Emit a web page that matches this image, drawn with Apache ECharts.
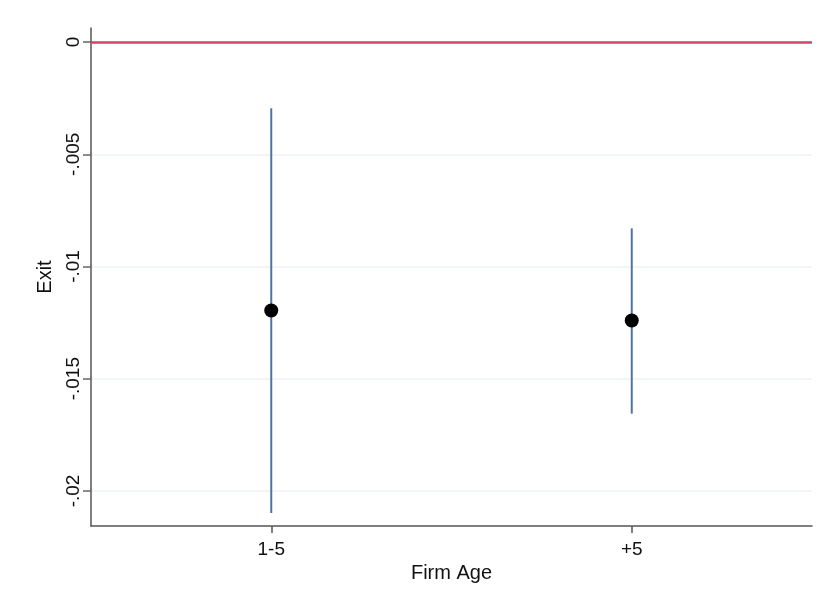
<!DOCTYPE html>
<html>
<head>
<meta charset="utf-8">
<script src="https://cdn.jsdelivr.net/npm/echarts@6/dist/echarts.min.js"></script>
<style>
  html, body { margin: 0; padding: 0; background: #fff; }
  #chart { width: 823px; height: 603px; }
</style>
</head>
<body>
<div id="chart"></div>
<script>
// Firm age groups and estimated effect on exit with 95% confidence bounds
const categories = ['1-5', '+5'];
const estimates = [-0.01196, -0.01241];
const ciLower = [-0.02098, -0.01656];
const ciUpper = [-0.00295, -0.00830];
const yTicks = [0, -0.005, -0.01, -0.015, -0.02];

const fmt = v => {
  if (Math.abs(v) < 1e-12) return '0';
  return String(+v.toFixed(4)).replace('0.', '.');
};

const chart = echarts.init(document.getElementById('chart'));
const font = 'Liberation Sans, Arial, sans-serif';

chart.setOption({
  animation: false,
  backgroundColor: '#ffffff',
  grid: { left: 91, right: 11, top: 28, bottom: 77, containLabel: false },
  xAxis: {
    type: 'category',
    data: categories,
    boundaryGap: true,
    name: 'Firm Age',
    nameLocation: 'middle',
    nameGap: 37,
    nameTextStyle: { fontFamily: font, fontSize: 20, color: '#111' },
    axisLine: { show: true, onZero: false, lineStyle: { color: '#555', width: 1.5 } },
    axisTick: { show: true, inside: false, alignWithLabel: true, length: 7, lineStyle: { color: '#555', width: 1.5 } },
    axisLabel: { fontFamily: font, fontSize: 19, color: '#111', margin: 14 },
    splitLine: { show: false }
  },
  yAxis: {
    type: 'value',
    min: -0.0215625,
    max: 0.000625,
    name: 'Exit',
    nameLocation: 'middle',
    nameGap: 36,
    nameRotate: 90,
    nameTextStyle: { fontFamily: font, fontSize: 20, color: '#111' },
    axisLine: { show: true, lineStyle: { color: '#555', width: 1.5 } },
    axisTick: { show: true, inside: false, length: 8, customValues: yTicks, lineStyle: { color: '#666', width: 1.5 } },
    axisLabel: { fontFamily: font, fontSize: 19, color: '#111', rotate: 90, margin: 8, customValues: yTicks, formatter: fmt },
    splitLine: { show: true, lineStyle: { color: '#eef2f2', width: 1.5 } }
  },
  series: [
    {
      type: 'custom',
      name: 'CI',
      data: categories.map((c, i) => [i, ciLower[i], ciUpper[i]]),
      renderItem: (params, api) => {
        const lo = api.coord([api.value(0), api.value(1)]);
        const hi = api.coord([api.value(0), api.value(2)]);
        return {
          type: 'line',
          shape: { x1: lo[0], y1: lo[1], x2: hi[0], y2: hi[1] },
          style: { stroke: '#4f75a0', lineWidth: 2 }
        };
      },
      z: 2
    },
    {
      type: 'scatter',
      name: 'Estimate',
      data: categories.map((c, i) => [i, estimates[i]]),
      symbol: 'circle',
      symbolSize: 14,
      itemStyle: { color: '#000', opacity: 1 },
      z: 3,
      markLine: {
        silent: true,
        symbol: 'none',
        label: { show: false },
        lineStyle: { color: '#cf4668', width: 2.5, type: 'solid', opacity: 1 },
        data: [{ yAxis: 0 }]
      }
    }
  ]
});
</script>
</body>
</html>
